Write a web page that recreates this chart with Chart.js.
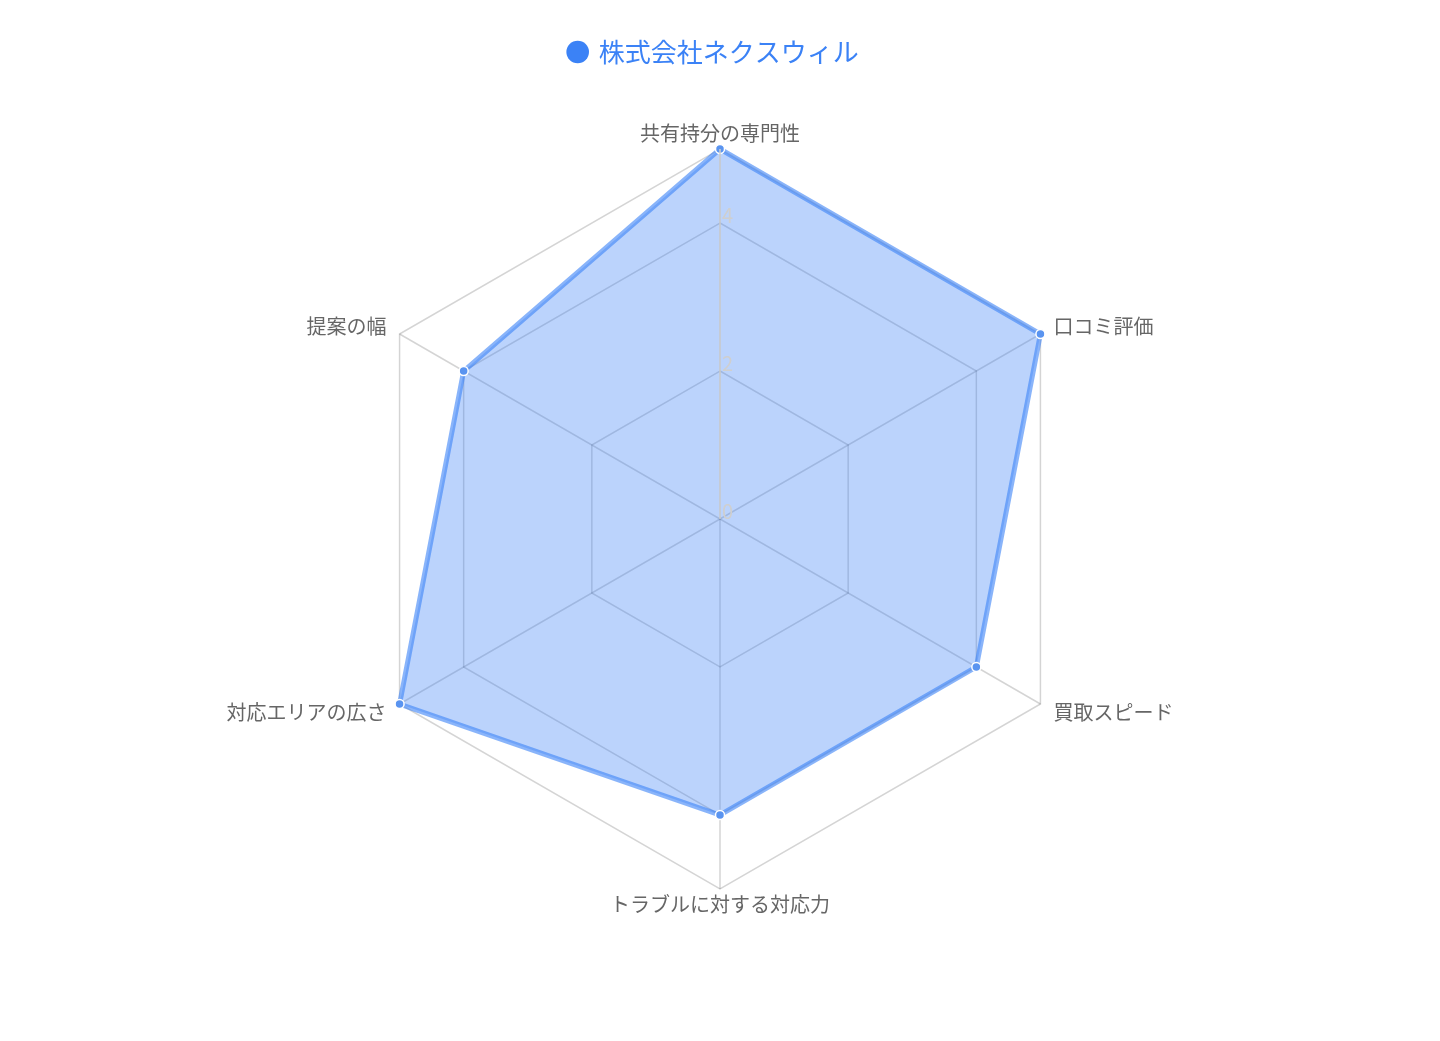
<!DOCTYPE html>
<html lang="ja">
<head>
<meta charset="utf-8">
<title>株式会社ネクスウィル</title>
<script src="https://cdn.jsdelivr.net/npm/chart.js@4.4.1/dist/chart.umd.min.js"></script>
<style>
  html, body { margin: 0; padding: 0; background: #fff; }
  .wrap { width: 1440px; height: 1041px; position: relative; }
</style>
</head>
<body>
<div class="wrap"><canvas id="radar"></canvas></div>
<script>
const labels = ['共有持分の専門性', '口コミ評価', '買取スピード', 'トラブルに対する対応力', '対応エリアの広さ', '提案の幅'];
const scores = [5, 5, 4, 4, 5, 4];
const seriesName = '株式会社ネクスウィル';
const tickMin = 0;
const tickMax = 5;
const tickStep = 2;

const blue = 'rgb(59, 130, 246)';
const jpFont = '"Noto Sans CJK JP", "Noto Sans", sans-serif';

// radius axis line + tick labels sit on top of the filled area in the original
const radiusAxisOnTop = {
  id: 'radiusAxisOnTop',
  afterDatasetsDraw(chart) {
    const s = chart.scales.r;
    const ctx = chart.ctx;
    ctx.save();
    ctx.strokeStyle = '#cfcfcf';
    ctx.lineWidth = 1.5;
    ctx.beginPath();
    ctx.moveTo(s.xCenter, s.yCenter);
    ctx.lineTo(s.xCenter, s.yCenter - s.drawingArea);
    ctx.stroke();
    ctx.fillStyle = '#cfcfcf';
    ctx.font = '20px ' + jpFont;
    ctx.textAlign = 'left';
    ctx.textBaseline = 'middle';
    s.ticks.forEach(t => {
      if (t.value >= s.max) return;
      const d = s.getDistanceFromCenterForValue(t.value);
      ctx.fillText(t.label, s.xCenter + 2, s.yCenter - d - 8);
    });
    ctx.restore();
  }
};

new Chart(document.getElementById('radar').getContext('2d'), {
  type: 'radar',
  data: {
    labels: labels,
    datasets: [{
      label: seriesName,
      data: scores,
      backgroundColor: 'rgba(59, 130, 246, 0.35)',
      borderColor: 'rgba(59, 130, 246, 0.6)',
      borderWidth: 5,
      pointBackgroundColor: 'rgb(90, 148, 240)',
      pointBorderColor: '#fff',
      pointBorderWidth: 1.5,
      pointRadius: 4.5
    }]
  },
  plugins: [radiusAxisOnTop],
  options: {
    responsive: true,
    maintainAspectRatio: false,
    animation: false,
    layout: { padding: { top: 0, bottom: 136, left: 0, right: 0 } },
    plugins: {
      legend: {
        position: 'top',
        weight: 1000,
        labels: {
          usePointStyle: true,
          pointStyle: 'circle',
          boxWidth: 16,
          boxHeight: 16,
          color: blue,
          padding: 39,
          font: { family: jpFont, size: 26 },
          generateLabels: (chart) =>
            Chart.defaults.plugins.legend.labels.generateLabels(chart)
              .map(item => Object.assign(item, { text: item.text + '  ', fillStyle: blue, lineWidth: 0 }))
        }
      },
      // empty title used only as the gap between legend and chart
      title: {
        display: true,
        text: '',
        weight: 0,
        padding: { top: 58, bottom: 0 },
        font: { lineHeight: 0 }
      },
      tooltip: { enabled: false }
    },
    scales: {
      r: {
        min: tickMin,
        max: tickMax,
        beginAtZero: true,
        ticks: { stepSize: tickStep, display: false },
        grid: { color: 'rgba(0, 0, 0, 0.17)', lineWidth: 1.5 },
        angleLines: { color: 'rgba(0, 0, 0, 0.17)', lineWidth: 1.5 },
        pointLabels: {
          color: '#666',
          padding: 15,
          font: { family: jpFont, size: 20, lineHeight: 0.05 }
        }
      }
    }
  }
});
</script>
</body>
</html>
